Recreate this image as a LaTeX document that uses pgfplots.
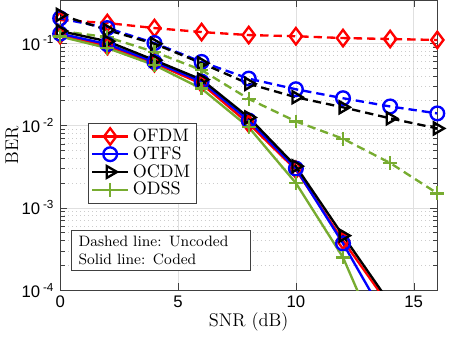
\documentclass[border=0pt]{standalone}
\usepackage{fontspec}
\usepackage{pgfplots}
\pgfplotsset{compat=1.18}
\newfontfamily\hv{Liberation Sans}
\definecolor{mgreen}{RGB}{119,172,48}
\begin{document}
\begin{tikzpicture}
\begin{axis}[
    name=ax,
    width=225.6pt, height=173.4pt, scale only axis,
    xmin=0, xmax=16,
    ymode=log, ymin=1e-4, ymax=0.33,
    xtick={0,5,10,15}, xticklabels={0,5,10,15},
    ytick={1e-4,1e-3,1e-2,1e-1},
    yticklabels={{10\,\textsuperscript{-4}},{10\,\textsuperscript{-3}},{10\,\textsuperscript{-2}},{10\,\textsuperscript{-1}}},
    ticklabel style={font=\hv\fontsize{10}{12}\selectfont},
    xlabel={SNR (dB)}, ylabel={BER},
    label style={font=\fontsize{11}{13}\selectfont},
    ylabel style={yshift=-5pt},
    xlabel style={yshift=4pt},
    grid=both,
    major grid style={black!12},
    minor grid style={black!20, dotted},
    minor x tick num=0,
    axis line style={black!75},
    tick style={black!75},
    every axis plot/.append style={line width=1.4pt, mark size=4.1pt, mark options={solid, fill=none}},
    legend style={at={(0.074,0.578)}, anchor=north west, draw=black!75, fill=white,
        font=\fontsize{10.8}{12}\selectfont, row sep=-2.5pt, inner sep=1.5pt},
    legend cell align=left,
    legend image code/.code={\draw[mark repeat=2,mark phase=2] plot coordinates {(0cm,0cm) (0.38cm,0cm) (0.76cm,0cm)};},
  ]

  % uncoded (dashed)
  \addplot[red, dash pattern=on 5pt off 3pt, mark=diamond, mark options={solid, scale=1.2}, forget plot] coordinates {
    (0,0.19) (2,0.175) (4,0.152) (6,0.136) (8,0.125) (10,0.121) (12,0.115) (14,0.112) (16,0.109)
  };
  \addplot[blue, dash pattern=on 5pt off 3pt, mark=o, forget plot] coordinates {
    (0,0.20) (2,0.152) (4,0.10) (6,0.059) (8,0.037) (10,0.0275) (12,0.0214) (14,0.017) (16,0.014)
  };
  \addplot[black, dash pattern=on 5pt off 3pt, mark=triangle, mark options={solid, rotate=-90}, forget plot] coordinates {
    (0,0.22) (2,0.144) (4,0.098) (6,0.057) (8,0.032) (10,0.022) (12,0.0166) (14,0.0122) (16,0.0092)
  };
  \addplot[mgreen, dash pattern=on 5pt off 3pt, mark=+, forget plot] coordinates {
    (0,0.14) (2,0.118) (4,0.078) (6,0.047) (8,0.021) (10,0.0112) (12,0.0069) (14,0.0035) (16,0.0015)
  };

  % coded (solid)
  \addplot[red, mark=diamond, mark options={solid, scale=1.2}] coordinates {
    (0,0.125) (2,0.092) (4,0.057) (6,0.032) (8,0.0105) (10,0.0029) (12,0.0004) (14,0.000063)
  };
  \addplot[blue, mark=o] coordinates {
    (0,0.13) (2,0.097) (4,0.059) (6,0.034) (8,0.0115) (10,0.003) (12,0.00037) (14,0.000037)
  };
  \addplot[black, mark=triangle, mark options={solid, rotate=-90}] coordinates {
    (0,0.14) (2,0.105) (4,0.062) (6,0.036) (8,0.0125) (10,0.0032) (12,0.00046) (14,0.000069)
  };
  \addplot[mgreen, mark=+] coordinates {
    (0,0.12) (2,0.087) (4,0.054) (6,0.028) (8,0.0095) (10,0.002) (12,0.00025) (14,0.000012)
  };
  \legend{OFDM, OTFS, OCDM, ODSS}

  \node[draw=black!75, fill=white, anchor=south west, align=left, inner xsep=4pt, inner ysep=3.5pt,
        text width=99pt, font=\fontsize{9}{11}\selectfont]
    at (axis description cs:0.03,0.066) {Dashed line: Uncoded\\Solid line: Coded};
\end{axis}
% white margin on the right, as in the reference
\path ([xshift=7pt]ax.north east);
\end{tikzpicture}
\end{document}
